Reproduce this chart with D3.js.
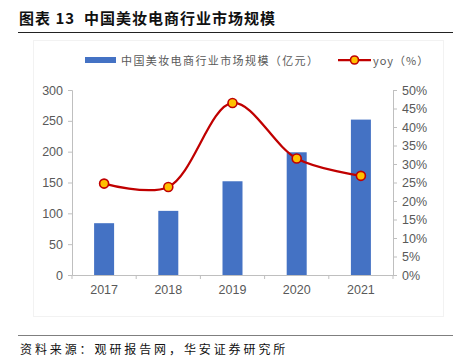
<!DOCTYPE html>
<html>
  <head>
    <meta charset="utf-8">
    <script src="https://d3js.org/d3.v7.min.js"></script>
    <style>
      body { margin: 0; background: #fff; }
      text { font-family: "Liberation Sans", Arial, sans-serif; }
      .cjk { font-family: "Noto Sans CJK SC", sans-serif; }
    </style>
  </head>
  <body>
  <script>

    var years = ['2017', '2018', '2019', '2020', '2021'];
    var scale = [84, 104, 152, 199, 252];
    var yoy = [24.7, 23.8, 46.5, 31.5, 26.8];
    var leftTicks = [0, 50, 100, 150, 200, 250, 300];
    var rightTicks = [0, 5, 10, 15, 20, 25, 30, 35, 40, 45, 50];

    var width = 453, height = 362;
    var svg = d3.select('body').append('svg')
      .attr('width', width)
      .attr('height', height);

    // title
    svg.append('text')
      .attr('class', 'cjk')
      .attr('x', 19).attr('y', 24)
      .style('font-size', '15px')
      .style('font-weight', 'bold')
      .style('letter-spacing', '1px')
      .attr('fill', '#111')
      .attr('xml:space', 'preserve')
      .text('图表 13  中国美妆电商行业市场规模');
    svg.append('line')
      .attr('x1', 18).attr('x2', 453)
      .attr('y1', 32.5).attr('y2', 32.5)
      .attr('stroke', '#222').attr('stroke-width', 1);

    // faint chart frame
    svg.append('rect')
      .attr('x', 33.5).attr('y', 40.5)
      .attr('width', 410).attr('height', 276)
      .attr('fill', 'none').attr('stroke', '#f2f2f2');

    var x = d3.scaleBand().domain(years).range([72, 393]);
    var y = d3.scaleLinear().domain([0, 300]).range([275, 90]);
    var y2 = d3.scaleLinear().domain([0, 50]).range([275, 90]);

    var grey = '#595959';

    // bars
    svg.selectAll('.bar')
      .data(scale)
      .enter().append('rect')
      .attr('class', 'bar')
      .attr('x', function(d, i) { return x(years[i]) + x.bandwidth() / 2 - 10; })
      .attr('width', 20)
      .attr('y', function(d) { return y(d); })
      .attr('height', function(d) { return y(0) - y(d); })
      .attr('fill', '#4472c4');

    // left axis
    var gl = svg.append('g').attr('transform', 'translate(72,0)')
      .call(d3.axisLeft(y).tickValues(leftTicks).tickSize(4).tickPadding(5));
    // right axis
    var gr = svg.append('g').attr('transform', 'translate(393,0)')
      .call(d3.axisRight(y2).tickValues(rightTicks).tickSize(4).tickPadding(5)
        .tickFormat(function(d) { return d + '%'; }));
    // x axis
    var gx = svg.append('g').attr('transform', 'translate(0,275)')
      .call(d3.axisBottom(x).tickSize(0).tickPadding(10));
    gx.selectAll('.xt')
      .data(years.concat(['end']))
      .enter().append('line')
      .attr('class', 'xt')
      .attr('x1', function(d, i) { return 72 + i * x.step(); })
      .attr('x2', function(d, i) { return 72 + i * x.step(); })
      .attr('y1', 0).attr('y2', 4)
      .attr('stroke', '#bfbfbf');

    [gl, gr, gx].forEach(function(g) {
      g.select('.domain').attr('stroke', '#bfbfbf');
      g.selectAll('.tick line').attr('stroke', '#bfbfbf');
      g.selectAll('.tick text')
        .attr('fill', grey)
        .style('font-size', '12.5px')
        .style('font-family', '"Liberation Sans", Arial, sans-serif');
    });

    // yoy line
    var pts = yoy.map(function(d, i) { return [x(years[i]) + x.bandwidth() / 2, y2(d)]; });
    svg.append('path')
      .datum(pts)
      .attr('fill', 'none')
      .attr('stroke', '#c00000')
      .attr('stroke-width', 2.25)
      .attr('d', d3.line().curve(d3.curveCatmullRom.alpha(0.5)));
    svg.selectAll('.dot')
      .data(pts)
      .enter().append('circle')
      .attr('class', 'dot')
      .attr('cx', function(d) { return d[0]; })
      .attr('cy', function(d) { return d[1]; })
      .attr('r', 4.5)
      .attr('fill', '#ffc000')
      .attr('stroke', '#c00000')
      .attr('stroke-width', 1.6);

    // legend
    svg.append('rect')
      .attr('x', 85).attr('y', 57).attr('width', 31).attr('height', 6)
      .attr('fill', '#4472c4');
    svg.append('text')
      .attr('class', 'cjk')
      .attr('x', 121).attr('y', 64.5)
      .style('font-size', '11px')
      .style('letter-spacing', '1.4px')
      .attr('fill', grey)
      .text('中国美妆电商行业市场规模（亿元）');
    svg.append('line')
      .attr('x1', 338).attr('x2', 371).attr('y1', 60).attr('y2', 60)
      .attr('stroke', '#c00000').attr('stroke-width', 2.25);
    svg.append('circle')
      .attr('cx', 354.5).attr('cy', 60).attr('r', 4)
      .attr('fill', '#ffc000').attr('stroke', '#c00000').attr('stroke-width', 1.6);
    svg.append('text')
      .attr('class', 'cjk')
      .attr('x', 373).attr('y', 64.5)
      .style('font-size', '11px')
      .style('letter-spacing', '1px')
      .attr('fill', grey)
      .text('yoy（%）');

    // source
    svg.append('line')
      .attr('x1', 18).attr('x2', 453)
      .attr('y1', 335.5).attr('y2', 335.5)
      .attr('stroke', '#7f7f7f').attr('stroke-width', 1);
    svg.append('text')
      .attr('class', 'cjk')
      .attr('x', 20).attr('y', 354)
      .style('font-size', '12px')
      .style('letter-spacing', '2.9px')
      .attr('fill', '#111')
      .text('资料来源：观研报告网，华安证券研究所');

  </script>
  </body>
</html>
